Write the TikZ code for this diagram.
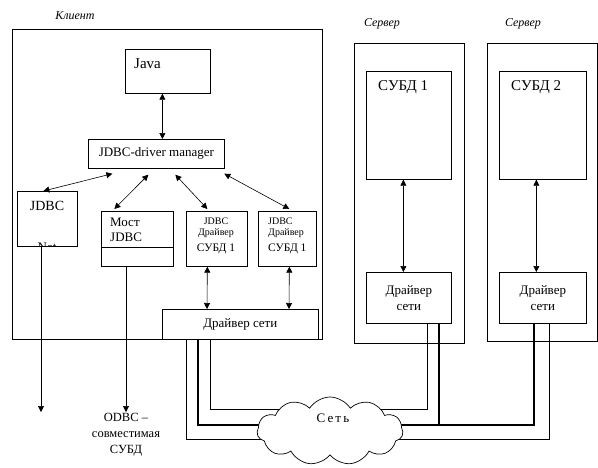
\documentclass[tikz,border=0pt]{standalone}
\usepackage{fontspec}
\setmainfont{Liberation Serif}
\usetikzlibrary{arrows.meta,shapes.symbols,backgrounds,calc}
\begin{document}
\begin{tikzpicture}[x=1pt,y=-1pt,
  box/.style={draw, line width=0.7pt, inner sep=0pt, anchor=north west},
  txt/.style={inner sep=0pt, font=\fontsize{13}{15}\selectfont},
  ital/.style={inner sep=0pt, font=\itshape\fontsize{12}{14}\selectfont},
  tip/.tip={Triangle[length=6pt,width=6pt]},
  dbl/.style={{tip}-{tip}, line width=0.6pt},
  one/.style={-{tip}, line width=0.6pt},
  thinnet/.style={line width=0.7pt},
  thicknet/.style={line width=2.2pt},
]
\useasboundingbox (0,0) rectangle (598,467);

% ---------- client ----------
\node[box, minimum width=310pt, minimum height=310pt] (client) at (12,29) {};
\node[ital] (clientlbl) at (75,16) {Клиент};

\node[box, minimum width=85pt, minimum height=44pt] (java) at (125,49) {};
\node[txt, anchor=west, font=\fontsize{15}{17}\selectfont] (javat) at (134,64) {Java};

\node[box, minimum width=136pt, minimum height=29pt, font=\fontsize{13}{15}\selectfont] (manager) at (88,139) {JDBC-driver manager};

\node[box, minimum width=60pt, minimum height=55pt] (jdbc) at (17,191) {};
\node[txt, font=\fontsize{14}{16}\selectfont] (jdbct) at (47,206) {JDBC};
\begin{scope}
  \clip (jdbc.north west) rectangle (jdbc.south east);
  \node[txt, anchor=base] (jdbcnet) at (47,251) {Net};
\end{scope}

\node[box, minimum width=72pt, minimum height=55pt] (most) at (101,211) {};
\draw[line width=0.7pt] (most.west |- 0,247) -- (most.east |- 0,247);
\node[txt, anchor=west] (mostt1) at (110,222) {Мост};
\node[txt, anchor=west] (mostt2) at (110,237) {JDBC};

\node[box, minimum width=61pt, minimum height=55pt] (drvA) at (186,211) {};
\node[txt, font=\fontsize{10}{12}\selectfont] (drvAt1) at (216,221) {JDBC};
\node[txt, font=\fontsize{10}{12}\selectfont] (drvAt2) at (216,233) {Драйвер};
\node[txt, font=\fontsize{11.5}{13}\selectfont] (drvAt3) at (216,249) {СУБД 1};

\node[box, minimum width=58pt, minimum height=55pt] (drvB) at (258,211) {};
\node[txt, anchor=west, font=\fontsize{10}{12}\selectfont] (drvBt1) at (268,221) {JDBC};
\node[txt, anchor=west, font=\fontsize{10}{12}\selectfont] (drvBt2) at (268,233) {Драйвер};
\node[txt, anchor=west, font=\fontsize{11.5}{13}\selectfont] (drvBt3) at (268,249) {СУБД 1};

\node[box, minimum width=156pt, minimum height=30pt, font=\fontsize{13}{15}\selectfont] (netdrv) at (162,309) {Драйвер сети};

% client arrows
\draw[dbl] ($(java.south)+(-5.5,0)$) -- ($(manager.north)+(6,0)$);
\draw[dbl] ($(jdbc.north)+(-4,0)$) -- ($(manager.south)+(-44,5)$);
\draw[dbl] ($(most.north)+(-23,-2)$) -- ($(manager.south)+(-8,6)$);
\draw[dbl] ($(drvA.north)+(-9.5,-2)$) -- ($(manager.south)+(19,6)$);
\draw[dbl] ($(drvB.north)+(2,-2)$) -- ($(manager.south)+(68,5)$);
\draw[dbl] ($(drvA.south)+(-9.5,0)$) -- (netdrv.north -| 207,0);
\draw[dbl] ($(drvB.south)+(2,0)$) -- (netdrv.north -| 289,0);

\coordinate (jend) at (41,412);
\coordinate (oend) at (126,412);
\draw[one] (jdbc.south -| jend) -- (jend);
\draw[one] (most.south -| oend) -- (oend);
\node[inner sep=0pt, align=center, anchor=north, font=\fontsize{12.5}{16}\selectfont] (odbc) at (126,413) {ODBC –\\совместимая\\СУБД};

% ---------- servers ----------
\node[ital] (srv1lbl) at (382,24) {Сервер};
\node[ital] (srv2lbl) at (523,24) {Сервер};

\node[box, minimum width=110pt, minimum height=300pt] (srv1) at (354,43) {};
\node[box, minimum width=85pt, minimum height=108pt] (subd1) at (366,71) {};
\node[txt, anchor=west, font=\fontsize{15}{17}\selectfont] (subd1t) at (378,87) {СУБД 1};
\node[box, minimum width=85pt, minimum height=51pt, align=center, font=\fontsize{13}{15}\selectfont] (drv1) at (366,272) {Драйвер\\[1pt]сети};
\draw[dbl] ($(subd1.south)+(-5.5,0)$) -- ($(drv1.north)+(-5.5,0)$);

\node[box, minimum width=110pt, minimum height=298pt] (srv2) at (487,43) {};
\node[box, minimum width=87pt, minimum height=108pt] (subd2) at (499,71) {};
\node[txt, anchor=west, font=\fontsize{15}{17}\selectfont] (subd2t) at (511,87) {СУБД 2};
\node[box, minimum width=87pt, minimum height=51pt, align=center, font=\fontsize{13}{15}\selectfont] (drv2) at (499,272) {Драйвер\\[1pt]сети};
\draw[dbl] ($(subd2.south)+(-6.5,0)$) -- ($(drv2.north)+(-6.5,0)$);

% ---------- network ----------
\node[cloud, draw, fill=white, line width=0.7pt, cloud puffs=11, cloud puff arc=115, aspect=2.2,
      minimum width=146pt, minimum height=68pt, inner sep=0pt] (net) at (330,431) {};
\node[txt, font=\fontsize{13}{15}\selectfont] (nett) at (333,418) {С\,е\,т\,ь};
\coordinate (c1) at (330,409);
\coordinate (c2) at (330,425);
\coordinate (c3) at (330,439);

\begin{scope}[on background layer]
  \draw[thinnet] ($(netdrv.south west)+(24,0)$) |- (c3);
  \draw[thicknet] ($(netdrv.south west)+(36,0)$) |- (c2);
  \draw[thinnet] ($(netdrv.south west)+(48,0)$) |- (c1);
  \draw[thinnet] (c1) -| ($(drv1.south west)+(61,0)$);
  \draw[thicknet] (c2) -| ($(drv2.south west)+(35,0)$);
  \draw[thicknet] ($(drv1.south west)+(73,0)$) |- (c2);
  \draw[thinnet] (c3) -| ($(drv2.south west)+(50,0)$);
\end{scope}
\end{tikzpicture}
\end{document}
